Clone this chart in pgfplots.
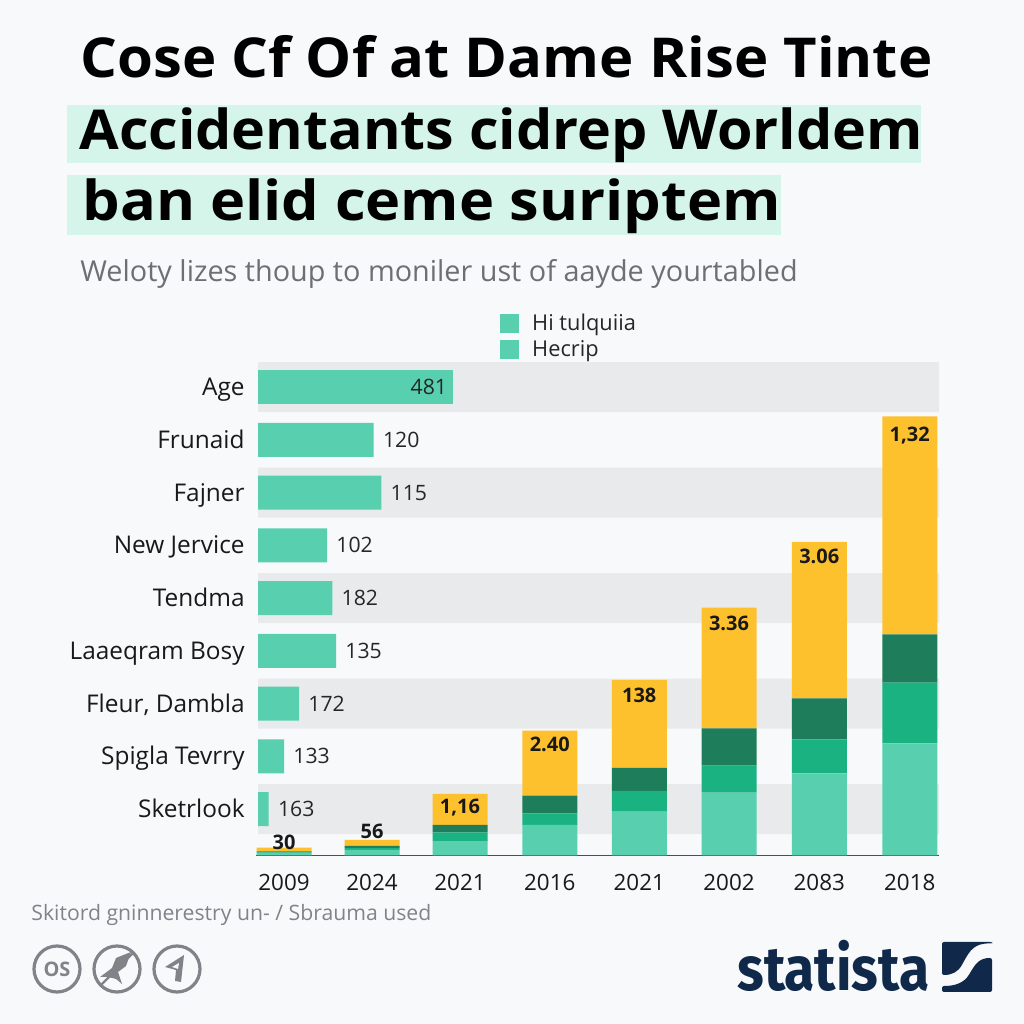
\documentclass[border=0pt]{standalone}
\usepackage{pgfplots}
\usepackage{pgfplotstable}
\usepackage{fontspec}
\pgfplotsset{compat=1.18}
\setmainfont{Open Sans}
\newfontfamily\logofont{Fira Sans}
\definecolor{bgc}{HTML}{F8F9FB}
\definecolor{band}{HTML}{E9EAEC}
\definecolor{teal1}{HTML}{58D0B0}
\definecolor{green1}{HTML}{1BB282}
\definecolor{dark1}{HTML}{1E7D5A}
\definecolor{yellow1}{HTML}{FEC12E}
\definecolor{mint}{HTML}{D6F5EA}
\definecolor{navy}{HTML}{10294A}
\definecolor{subg}{HTML}{6C7074}
\definecolor{footg}{HTML}{808488}
\definecolor{axisc}{HTML}{4A4F54}
\pgfplotstableread{
i w label
0 194.5 481
1 115.7 120
2 123.3 115
3 69 102
4 74.3 182
5 78 135
6 41 172
7 26 133
8 10.7 163
}\hbars
\pgfplotstableread{
i w
0 681
2 681
4 681
6 681
8 681
}\hbands
\pgfplotstableread{
x t g d y label dy
284 2.5 0.5 1.2 3.6 30 3.4
372 5.5 2 2 6 56 5.8
460 13.8 9.4 7.3 31 {1,16} 0.75
549.75 30.5 11.7 17.6 65 {2.40} 9.6
639.25 43.8 20.7 23 88 138 14.15
729 62.8 27 37.4 120.6 {3.36} 22.5
819.25 82.2 34 41 156.3 {3.06} 31.7
909.75 112.2 60.6 48.4 218 {1,32} 45.1
}\stacks
\newcommand{\titlefont}{\bfseries\fontsize{27.5}{32}\selectfont}
\begin{document}
\begin{tikzpicture}
\path[use as bounding box,fill=bgc] (0,0) rectangle (512pt,512pt);
\begin{scope}[shift={(0,512pt)},x=0.5pt,y=-0.5pt]
\fill[mint] (67,105) rectangle (921,163);
\fill[mint] (67,175) rectangle (781,235);
\node[anchor=base west,inner sep=0] at (80,78) {\scalebox{1.055}[1]{\titlefont Cose Cf Of at Dame Rise Tinte}};
\node[anchor=base west,inner sep=0] at (79,150) {\scalebox{1.044}[1]{\titlefont Accidentants cidrep Worldem}};
\node[anchor=base west,inner sep=0] at (82,221) {\scalebox{1.082}[1]{\titlefont ban elid ceme suriptem}};
\node[anchor=base west,inner sep=0,text=subg,font=\fontsize{14.4}{18}\selectfont] at (80,282) {Weloty lizes thoup to moniler ust of aayde yourtabled};
\node[anchor=base west,inner sep=0,text=footg,font=\fontsize{10.6}{14}\selectfont] at (31,920) {Skitord gninnerestry un- / Sbrauma used};
% source icons
\draw[footg,line width=1.6pt] (57,969) circle (23);
\draw[footg,line width=1.6pt] (117,969) circle (23);
\draw[footg,line width=1.6pt] (177,969) circle (23);
\node[text=footg,font=\bfseries\fontsize{10}{12}\selectfont,inner sep=0] at (57,969) {OS};
\draw[footg,line width=1.2pt] (101,985) -- (133,953);
\fill[footg] (100,977) -- (112,968) -- (116,958) -- (131,952) -- (126,966) -- (118,972) -- (122,984) -- (116,979) -- (108,977) -- cycle;
\fill[footg] (165,967) -- (184,955) -- (181,982) -- (175,981) -- (176,970) -- cycle;
\fill[bgc] (172,967) -- (179,963) -- (178,969) -- cycle;
% logo
\node[anchor=base west,inner sep=0,text=navy] at (737,991) {\scalebox{0.89}[1]{\logofont\bfseries\fontsize{31}{36}\selectfont statista}};
\fill[navy,rounded corners=1pt] (942,942) -- (992,942) -- (992,943.5) .. controls (975,943) and (970,950) .. (963,963) .. controls (958,972) and (952,975) .. (942,975) -- cycle;
\fill[navy,rounded corners=1pt] (942,992) -- (992,992) -- (992,958) .. controls (980,958) and (976,963) .. (970,973) .. controls (964,983) and (955,986) .. (942,986) -- cycle;
\end{scope}
% horizontal bars
\begin{axis}[
  at={(129pt,84.25pt)},anchor=south west,
  width=340.5pt,height=246.9pt,scale only axis,
  xmin=0,xmax=681,
  ymin=-0.48,ymax=8.88,y dir=reverse,
  clip=false,
  xbar,bar shift=0pt,
  axis line style={draw=none},
  xtick=\empty,
  ytick={0,...,8},
  yticklabels={Age,Frunaid,Fajner,New Jervice,Tendma,Laaeqram Bosy,{Fleur, Dambla},Spigla Tevrry,Sketrlook},
  major tick length=0pt,
  y tick label style={anchor=base east,inner sep=0pt,xshift=-6.5pt,yshift=-4.3pt,font=\fontsize{12.2}{14}\selectfont,text=black!90},
  legend style={at={(0.3554,1.1065)},anchor=north west,draw=none,fill=none,inner sep=0pt,font=\fontsize{10.9}{12}\selectfont,row sep=-0.5pt,text=black!85},
  legend cell align=left,
  legend image code/.code={\fill[teal1] (0pt,-4.5pt) rectangle (9pt,4.5pt);\path (13.5pt,0pt);},
]
\addlegendimage{teal1}
\addlegendentry{Hi tulquiia}
\addlegendimage{teal1}
\addlegendentry{Hecrip}
\addplot[forget plot,draw=none,fill=band,bar width=25pt] table[x=w,y=i] {\hbands};
\addplot[forget plot,draw=none,fill=teal1,bar width=17pt,
  point meta=explicit symbolic,
  nodes near coords,
  every node near coord/.style={anchor=west,inner sep=0pt,xshift=4.5pt,font=\fontsize{10.6}{13}\selectfont,text=black!85},
  restrict y to domain=1:8]
  table[x=w,y=i,meta=label] {\hbars};
\addplot[forget plot,draw=none,fill=teal1,bar width=17pt,
  point meta=explicit symbolic,
  nodes near coords,
  every node near coord/.style={anchor=east,inner sep=0pt,xshift=-2.5pt,font=\fontsize{10.6}{13}\selectfont,text=black!85},
  restrict y to domain=0:0.5]
  table[x=w,y=i,meta=label] {\hbars};
\end{axis}
% vertical stacked bars
\begin{axis}[
  at={(128pt,84.25pt)},anchor=south west,
  width=341.5pt,height=246.9pt,scale only axis,
  xmin=256,xmax=939,ymin=0,ymax=493.8,
  clip=false,
  ybar stacked,bar width=27.5pt,
  axis x line=bottom,axis y line=none,
  axis line style={axisc,line width=0.8pt,-},
  xtick={284,372,460,549.75,639.25,729,819.25,909.75},
  xticklabels={2009,2024,2021,2016,2021,2002,2083,2018},
  major tick length=0pt,
  x tick label style={inner sep=0pt,yshift=-9pt,font=\fontsize{11.2}{13}\selectfont,text=black!90},
]
\addplot[draw=none,fill=teal1] table[x=x,y=t] {\stacks};
\addplot[draw=none,fill=green1] table[x=x,y=g] {\stacks};
\addplot[draw=none,fill=dark1] table[x=x,y=d] {\stacks};
\addplot[draw=none,fill=yellow1,
  point meta=explicit symbolic,
  visualization depends on={\thisrow{dy} \as \dy},
  nodes near coords,
  every node near coord/.style={anchor=center,inner sep=0pt,yshift=\dy pt,font=\bfseries\fontsize{10}{12}\selectfont,text=black!90}]
  table[x=x,y=y,meta=label] {\stacks};
\end{axis}
\end{tikzpicture}
\end{document}
